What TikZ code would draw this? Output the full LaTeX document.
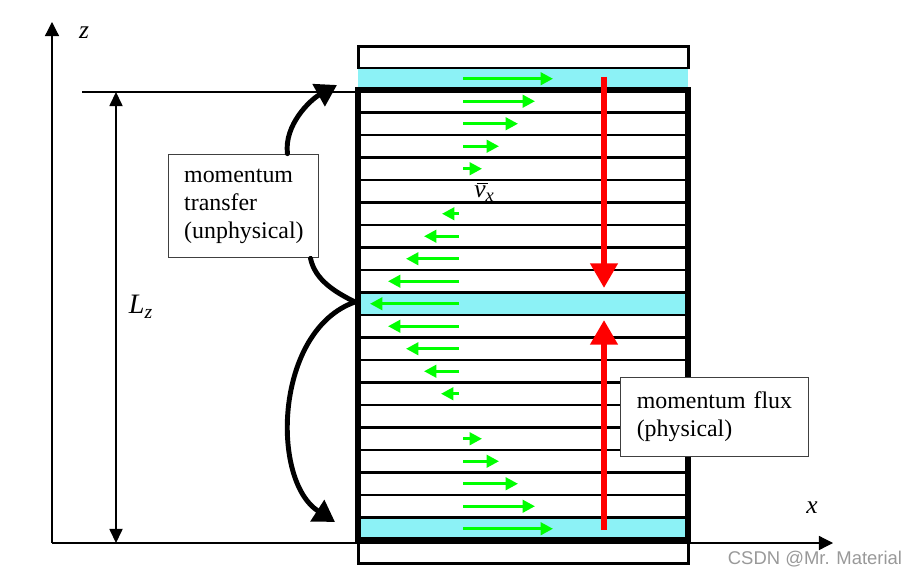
\documentclass[tikz,border=0pt]{standalone}
\usepackage{fontspec}
\setmainfont{Liberation Serif}
\newfontfamily\marksans{Liberation Sans}
\usetikzlibrary{arrows.meta}
\definecolor{layercyan}{RGB}{140,242,246}
\tikzset{row/.style={line width=1.7pt},
  wall/.style={line width=3.4pt},
  layer/.style={fill=layercyan},
  vel/.style={green, line width=1.7pt, -{Triangle[length=7pt,width=7pt]}},
  flux/.style={red, line width=3.4pt, -{Triangle[length=14pt,width=15pt]}},
  hop/.style={line width=2.8pt, line cap=round, -{Triangle[length=12pt,width=14pt]}},
  axis/.style={line width=0.7pt, -{Triangle[length=8pt,width=8pt]}},
  sym/.style={font=\fontsize{14.5}{17}\selectfont\itshape},
  infobox/.style={draw=black!75, fill=white, line width=0.6pt, align=left,
    font=\fontsize{13.6}{15.9}\selectfont, inner xsep=9pt}
}

\begin{document}
\begin{tikzpicture}[x=0.02cm, y=-0.02cm]
    \useasboundingbox (0,0) rectangle (918,577);

    % Sheared layers
    \fill[layer] (358,67.5) rectangle (688,90);
    \fill[layer] (358,292.5) rectangle (688,315);
    \fill[layer] (358,517.5) rectangle (688,540);
    \foreach \k in {1,...,19}
        \draw[row] (358,{90+22.5*\k}) -- (688,{90+22.5*\k});
    \draw[wall] (358,90) rectangle (688,540);
    \draw[row] (358,46.5) rectangle (688,68);
    \draw[row] (358,540) rectangle (688,563.5);

    % Velocity profile
    \foreach \k/\tip in {-1/553, 0/535, 1/518, 2/499, 3/482, 15/482, 16/499, 17/518, 18/535, 19/553}
        \draw[vel] (463,{101.25+22.5*\k}) -- (\tip,{101.25+22.5*\k});
    \foreach \k/\tip in {5/442, 6/424, 7/406, 8/388, 9/370, 10/388, 11/406, 12/424, 13/441}
        \draw[vel] (459,{101.25+22.5*\k}) -- (\tip,{101.25+22.5*\k});
    \node[sym, anchor=base west, inner sep=0pt] (vx) at (474,198) {\rlap{\hspace{0.1em}\raisebox{1.2ex}{\rule{0.42em}{0.8pt}}}v\raisebox{-0.3ex}{\fontsize{10.5}{12}\selectfont x}};

    % Physical flux
    \coordinate (fluxTop) at (604,77);
    \coordinate (fluxUp) at (604,288);
    \coordinate (fluxBot) at (604,530);
    \coordinate (fluxDown) at (604,320);
    \draw[flux] (fluxTop) -- (fluxUp);
    \draw[flux] (fluxBot) -- (fluxDown);

    % Axes and box height
    \coordinate (origin) at (52,543);
    \coordinate (zEnd) at (52,22);
    \coordinate (xEnd) at (833,543);
    \draw[axis] (origin) -- (zEnd);
    \draw[axis] (origin) -- (xEnd);
    \node[sym] (zlab) at (84,33) {z};
    \node[sym] (xlab) at (812,508) {x};

    \coordinate (LzRef) at (82,92);
    \coordinate (LzTop) at (116,92);
    \coordinate (LzBot) at (116,543);
    \coordinate (boxCorner) at (358,92);
    \draw[line width=0.7pt] (LzRef) -- (boxCorner);
    \draw[line width=0.7pt, {Triangle[length=8pt,width=7.5pt]}-{Triangle[length=8pt,width=7.5pt]}] (LzTop) -- (LzBot);
    \node[sym, font=\fontsize{16}{18}\selectfont\itshape] (Lz) at (141,307) {L\textsubscript{z}};

    % Labels
    \node[infobox, text width=67.5pt, minimum height=59pt] (transfer) at (243.5,206) {momentum\\transfer\\(unphysical)};
    \node[infobox, text width=88.5pt, minimum height=45pt] (fluxbox) at (714.5,417) {momentum flux\\(physical)};

    % Unphysical transfer
    \coordinate (topTip) at (337,85);
    \coordinate (mid) at (355,302);
    \coordinate (botTip) at (335,522);
    \draw[hop] (transfer.50) .. controls (284,125) and (310,100) .. (topTip);
    \draw[line width=2.8pt, line cap=round] (transfer.-38) .. controls (315,280) and (335,292) .. (mid);
    \draw[hop] (mid) .. controls (275,330) and (270,480) .. (botTip);

    \node[text=black!40, font=\marksans\fontsize{10.5}{12}\selectfont] (mark) at (815,559) {CSDN @Mr. Material};
\end{tikzpicture}
\end{document}
